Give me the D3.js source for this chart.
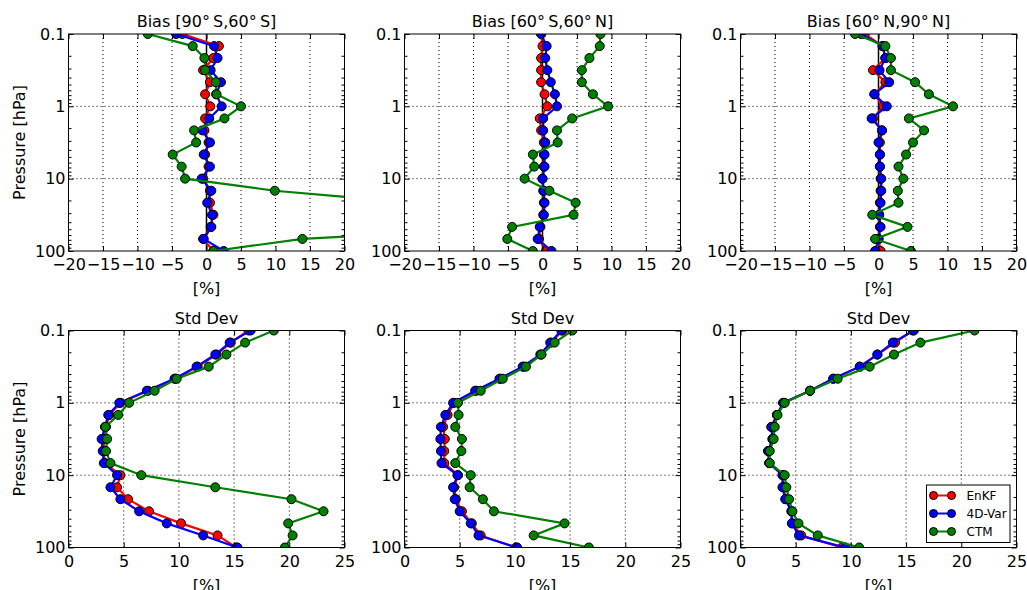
<!DOCTYPE html>
<html>
<head>
<meta charset="utf-8">
<script src="https://cdn.jsdelivr.net/npm/d3@7"></script>
<style>
  body { margin: 0; background: #fff; }
  svg { font-family: "DejaVu Sans", sans-serif; }
</style>
</head>
<body>
<svg id="chart" width="1027" height="590"></svg>
<script>
const levels = [0.1, 0.147, 0.215, 0.316, 0.464, 0.681, 1, 1.47, 2.15, 3.16, 4.64, 6.81, 10, 14.7, 21.5, 31.6, 46.4, 68.1, 100]

const biasSH_EnKF = [-3.5, 1.8, 1.0, -0.5, 0.5, -0.2, 0.55, -0.2, -0.3, 0.3, -0.2, 0.3, -0.5, 0.5, 0.5, 1.0, 0.6, -0.5, 1.0]
const biasSH_4DVar = [-4.4, 1.1, 1.6, 0.6, 2.1, 1.4, 2.2, 0.4, -0.6, 0.5, -0.4, 0.5, -0.7, 0.7, 0.1, 0.8, 0.7, -0.4, 2.5]
const biasSH_CTM = [-8.5, -2.0, -0.3, -0.2, 1.35, 1.45, 5.0, 2.6, -1.8, -1.5, -4.9, -3.6, -3.1, 9.9, 30, 40, 46, 13.9, 1.0]

const biasTR_EnKF = [-0.2, 0.0, -0.2, -0.2, -0.2, 0.3, 0.7, -0.4, -0.2, 0.2, 0.2, 0.2, 0.0, 0.1, 0.2, 0.1, -0.3, -0.5, 0.5]
const biasTR_4DVar = [-0.2, 0.6, 0.4, 0.7, 1.2, 1.8, 2.1, 0.1, 0.1, 0.4, 0.3, 0.3, 0.0, 0.2, 0.3, 0.2, -0.4, -0.7, 1.3]
const biasTR_CTM = [8.4, 8.3, 6.8, 5.7, 5.7, 7.3, 9.5, 4.3, 2.1, 2.2, -1.4, -1.2, -2.6, 1.0, 4.8, 4.5, -4.4, -5.1, -1.4]

const biasNH_EnKF = [-2.0, 0.6, 1.0, -0.8, 1.0, -0.6, 0.7, -0.8, 0.5, 0.2, 0.2, 0.2, 0.3, 0.3, 0.2, 0.1, 0.2, 0.0, 0.3]
const biasNH_4DVar = [-2.5, 0.6, 1.0, 0.15, 1.55, -0.6, 1.2, -1.0, 0.5, 0.0, 0.2, 0.2, 0.4, 0.4, 0.3, 0.1, 0.3, 0.0, -0.5]
const biasNH_CTM = [-3.4, 1.0, 1.8, 1.8, 5.3, 7.3, 10.8, 4.4, 6.6, 5.0, 4.0, 2.9, 3.6, 2.8, 2.9, -0.9, 4.2, -0.5, 4.7]

const stdSH_EnKF = [16.3, 14.7, 13.4, 11.7, 9.7, 7.2, 4.7, 3.7, 3.4, 3.2, 3.2, 3.3, 4.7, 4.4, 5.4, 7.3, 10.2, 13.5, 15.2]
const stdSH_4DVar = [16.5, 14.6, 13.3, 11.6, 9.6, 7.1, 4.6, 3.6, 3.3, 3.0, 3.1, 3.2, 4.4, 3.8, 4.7, 6.4, 8.9, 12.2, 15.3]
const stdSH_CTM = [18.6, 16.0, 14.3, 12.7, 9.8, 7.8, 5.5, 4.5, 3.35, 3.5, 3.4, 3.8, 6.6, 13.3, 20.2, 23.1, 19.9, 20.3, 19.6]

const stdTR_EnKF = [14.3, 13.3, 12.4, 10.8, 8.7, 6.5, 4.5, 3.9, 3.5, 3.65, 3.6, 3.6, 4.85, 4.5, 4.65, 5.2, 6.1, 6.9, 10.1]
const stdTR_4DVar = [14.2, 13.2, 12.3, 10.7, 8.6, 6.4, 4.4, 3.7, 3.3, 3.25, 3.3, 3.35, 4.8, 4.4, 4.55, 5.0, 6.0, 6.7, 10.2]
const stdTR_CTM = [15.2, 13.6, 12.4, 11.0, 8.9, 6.9, 4.85, 4.9, 4.6, 5.2, 5.15, 4.6, 6.0, 5.9, 7.1, 8.1, 14.5, 11.7, 16.7]

const stdNH_EnKF = [15.6, 14.0, 12.4, 10.8, 8.4, 6.3, 3.9, 3.3, 2.8, 2.9, 2.5, 2.6, 3.85, 3.9, 4.1, 4.65, 4.7, 5.5, 9.2]
const stdNH_4DVar = [15.7, 13.8, 12.4, 10.8, 8.4, 6.3, 3.85, 3.3, 2.8, 2.9, 2.5, 2.6, 3.8, 3.8, 4.05, 4.6, 4.65, 5.3, 9.5]
const stdNH_CTM = [21.2, 16.3, 13.9, 11.7, 8.8, 6.3, 4.0, 3.35, 3.1, 3.0, 2.65, 2.65, 4.0, 4.15, 4.4, 4.7, 5.25, 7.0, 10.75]

const seriesNames = ["EnKF", "4D-Var", "CTM"]
const seriesColors = ["#ff0000", "#0000ff", "#008000"]

const biasTicks = [-20, -15, -10, -5, 0, 5, 10, 15, 20]
const stdTicks = [0, 5, 10, 15, 20, 25]
const pressureTicks = [0.1, 1, 10, 100]

const panels = [
  { title: "Bias [90°\u2009S,60°\u2009S]", row: 0, col: 0, series: [biasSH_EnKF, biasSH_4DVar, biasSH_CTM] },
  { title: "Bias [60°\u2009S,60°\u2009N]", row: 0, col: 1, series: [biasTR_EnKF, biasTR_4DVar, biasTR_CTM] },
  { title: "Bias [60°\u2009N,90°\u2009N]", row: 0, col: 2, series: [biasNH_EnKF, biasNH_4DVar, biasNH_CTM] },
  { title: "Std Dev", row: 1, col: 0, series: [stdSH_EnKF, stdSH_4DVar, stdSH_CTM] },
  { title: "Std Dev", row: 1, col: 1, series: [stdTR_EnKF, stdTR_4DVar, stdTR_CTM] },
  { title: "Std Dev", row: 1, col: 2, series: [stdNH_EnKF, stdNH_4DVar, stdNH_CTM] },
]

const colLeft = [68.5, 404.5, 740.5]
const rowTop = [34, 330.5]
const width = 276
const height = 217
const fontSize = "16px"

const svg = d3.select("#chart")

// minor ticks for the log axis
const minorTicks = []
for (const dec of [0.1, 1, 10]) {
  for (let k = 2; k < 10; k++) minorTicks.push(dec * k)
}

panels.forEach((p, i) => {
  const g = svg.append("g")
    .attr("transform", `translate(${colLeft[p.col]}, ${rowTop[p.row]})`)

  const x = d3.scaleLinear()
    .domain(p.row === 0 ? [-20, 20] : [0, 25])
    .range([0, width])
  const y = d3.scaleLog()
    .domain([0.1, 100])
    .range([0, height])
  const xTicks = p.row === 0 ? biasTicks : stdTicks

  g.append("clipPath").attr("id", "clip" + i)
    .append("rect").attr("width", width).attr("height", height)

  // grid
  const grid = g.append("g")
    .attr("stroke", "#000")
    .attr("stroke-width", 1)
    .attr("stroke-dasharray", "1,3")
  grid.selectAll(".gx").data(xTicks.slice(1, -1)).join("line")
    .attr("x1", d => x(d)).attr("x2", d => x(d))
    .attr("y1", 0).attr("y2", height)
  grid.selectAll(".gy").data(pressureTicks.slice(1, -1)).join("line")
    .attr("y1", d => y(d)).attr("y2", d => y(d))
    .attr("x1", 0).attr("x2", width)

  const plot = g.append("g").attr("clip-path", `url(#clip${i})`)

  if (p.row === 0) {
    plot.append("line")
      .attr("x1", x(0)).attr("x2", x(0))
      .attr("y1", 0).attr("y2", height)
      .attr("stroke", "#000").attr("stroke-width", 1.5)
  }

  const line = d3.line()
    .x(d => x(d[0]))
    .y(d => y(d[1]))

  p.series.forEach((vals, s) => {
    const pts = vals.map((v, k) => [v, levels[k]])
    plot.append("path")
      .datum(pts)
      .attr("d", line)
      .attr("fill", "none")
      .attr("stroke", seriesColors[s])
      .attr("stroke-width", 2.2)
    plot.append("g").selectAll("circle")
      .data(pts)
      .join("circle")
      .attr("cx", d => x(d[0]))
      .attr("cy", d => y(d[1]))
      .attr("r", 4.5)
      .attr("fill", seriesColors[s])
      .attr("stroke", "#000")
      .attr("stroke-width", 1)
  })

  // axes with inward ticks
  const fmtX = d3.format("d")
  g.append("g")
    .attr("transform", `translate(0, ${height})`)
    .call(d3.axisBottom(x).tickValues(xTicks).tickFormat(fmtX).tickSize(-5).tickPadding(8))
  g.append("g")
    .call(d3.axisTop(x).tickValues(xTicks).tickFormat("").tickSize(-5))
  g.append("g")
    .call(d3.axisLeft(y).tickValues(pressureTicks).tickFormat(d => String(d)).tickSize(-5).tickPadding(3))
  g.append("g")
    .call(d3.axisLeft(y).tickValues(minorTicks).tickFormat("").tickSize(-3))
  g.append("g")
    .attr("transform", `translate(${width}, 0)`)
    .call(d3.axisRight(y).tickValues(pressureTicks).tickFormat("").tickSize(-5))
  g.append("g")
    .attr("transform", `translate(${width}, 0)`)
    .call(d3.axisRight(y).tickValues(minorTicks).tickFormat("").tickSize(-3))

  g.selectAll(".domain").remove()
  g.selectAll(".tick line").attr("stroke", "#000")
  g.selectAll(".tick text")
    .attr("fill", "#000")
    .style("font-size", fontSize)
    .style("font-family", "DejaVu Sans")

  g.append("rect")
    .attr("width", width).attr("height", height)
    .attr("fill", "none").attr("stroke", "#000").attr("stroke-width", 1)

  g.append("text")
    .attr("x", width / 2).attr("y", -7)
    .attr("text-anchor", "middle")
    .style("font-size", fontSize)
    .text(p.title)

  g.append("text")
    .attr("x", width / 2).attr("y", height + 43)
    .attr("text-anchor", "middle")
    .style("font-size", fontSize)
    .text("[%]")

  if (p.col === 0) {
    g.append("text")
      .attr("transform", `translate(-44, ${height / 2}) rotate(-90)`)
      .attr("text-anchor", "middle")
      .style("font-size", fontSize)
      .text("Pressure [hPa]")
  }

  if (i === 5) {
    const lg = g.append("g").attr("transform", `translate(${width - 90}, ${height - 62.5})`)
    lg.append("rect")
      .attr("width", 83.5).attr("height", 57.5)
      .attr("fill", "#fff").attr("stroke", "#000").attr("stroke-width", 1)
    seriesNames.forEach((name, s) => {
      const yy = 10.5 + s * 18
      lg.append("line")
        .attr("x1", 7).attr("x2", 25)
        .attr("y1", yy).attr("y2", yy)
        .attr("stroke", seriesColors[s]).attr("stroke-width", 2)
      lg.selectAll(null).data([7, 25]).join("circle")
        .attr("cx", d => d).attr("cy", yy).attr("r", 4)
        .attr("fill", seriesColors[s]).attr("stroke", "#000")
      lg.append("text")
        .attr("x", 40).attr("y", yy + 4.2)
        .style("font-size", "12px")
        .text(name)
    })
  }
})
</script>
</body>
</html>
